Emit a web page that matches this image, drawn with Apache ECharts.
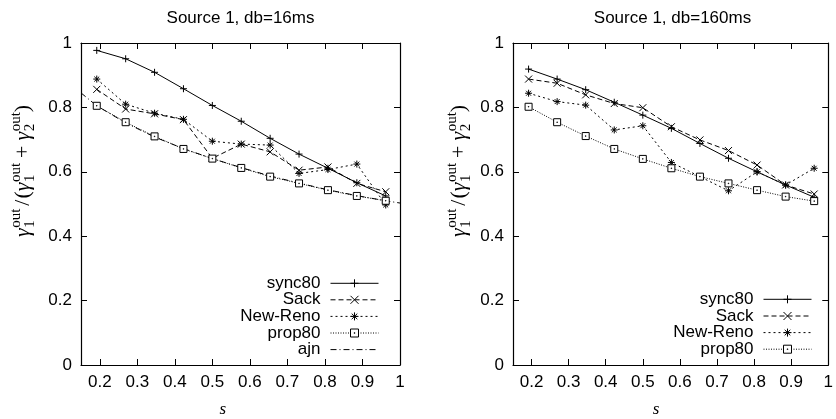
<!DOCTYPE html>
<html>
<head>
<meta charset="utf-8">
<script src="https://cdn.jsdelivr.net/npm/echarts@6/dist/echarts.min.js"></script>
<style>
html, body { margin: 0; padding: 0; background: #fff; }
#main { width: 836px; height: 419px; }
</style>
</head>
<body>
<div id="main"></div>
<script>
// s values of the measured points, and of the ajn curve samples
var sPoints = [0.192, 0.269, 0.346, 0.423, 0.5, 0.577, 0.654, 0.731, 0.808, 0.885, 0.962];
var ajnS = [0.15, 0.192, 0.269, 0.346, 0.423, 0.5, 0.577, 0.654, 0.731, 0.808, 0.885, 0.962, 1];
var xTicks = [0.2, 0.3, 0.4, 0.5, 0.6, 0.7, 0.8, 0.9, 1];

// db=16ms
var sync80A = [0.977, 0.951, 0.909, 0.858, 0.806, 0.757, 0.704, 0.655, 0.611, 0.566, 0.525];
var sackA = [0.856, 0.795, 0.78, 0.762, 0.642, 0.686, 0.662, 0.605, 0.615, 0.564, 0.538];
var renoA = [0.888, 0.81, 0.782, 0.763, 0.695, 0.686, 0.683, 0.595, 0.607, 0.624, 0.497];
var prop80A = [0.805, 0.754, 0.71, 0.671, 0.641, 0.612, 0.585, 0.564, 0.543, 0.525, 0.51];
var ajnA = [0.845, 0.805, 0.752, 0.708, 0.672, 0.641, 0.613, 0.587, 0.565, 0.544, 0.526, 0.51, 0.503];

// db=160ms
var sync80B = [0.919, 0.888, 0.855, 0.816, 0.776, 0.735, 0.688, 0.642, 0.6, 0.559, 0.521];
var sackB = [0.888, 0.875, 0.839, 0.812, 0.799, 0.74, 0.699, 0.666, 0.621, 0.559, 0.531];
var renoB = [0.844, 0.818, 0.807, 0.73, 0.743, 0.629, 0.585, 0.541, 0.6, 0.559, 0.611];
var prop80B = [0.802, 0.754, 0.711, 0.671, 0.64, 0.611, 0.585, 0.564, 0.543, 0.523, 0.509];

var SANS = '"Liberation Sans", Arial, sans-serif';
var SERIF = '"Liberation Serif", "Times New Roman", serif';

var PLUS = 'path://M5,0V10M0,5H10';
var CROSS = 'path://M0,0L10,10M10,0L0,10';
var STAR = 'path://M5,0V10M0,5H10M1.5,1.5L8.5,8.5M8.5,1.5L1.5,8.5';
var BOX = 'path://M0,0H10V10H0Z M4.6,4.6H5.4V5.4H4.6Z';

function pairs(xs, ys) {
  return ys.map(function (y, i) { return [xs[i], y]; });
}

function line(name, xs, ys, axis, dash, symbol, fill) {
  return {
    type: 'line', name: name, data: pairs(xs, ys),
    xAxisIndex: axis, yAxisIndex: axis,
    symbol: symbol || 'none', symbolSize: 7, showSymbol: !!symbol,
    clip: true, animation: false, silent: true,
    lineStyle: { color: '#000', width: 1, type: dash },
    itemStyle: { color: fill || '#000', borderColor: '#000', borderWidth: 1 }
  };
}

var tickStyle = { inside: true, length: 6, lineStyle: { color: '#000', width: 1 } };
var lineStyle = { show: true, onZero: false, lineStyle: { color: '#000', width: 1.2 } };
var labelStyle = { color: '#000', fontSize: 17, fontFamily: SANS, margin: 9 };

function xAx(grid, pos, labels) {
  return {
    type: 'value', gridIndex: grid, position: pos, min: 0.15, max: 1,
    axisLine: lineStyle, splitLine: { show: false },
    axisTick: Object.assign({ customValues: xTicks }, tickStyle),
    axisLabel: Object.assign({ show: labels, customValues: xTicks,
      formatter: function (v) { return String(v); } }, labelStyle)
  };
}
function yAx(grid, pos, labels) {
  return {
    type: 'value', gridIndex: grid, position: pos, min: 0, max: 1, interval: 0.2,
    axisLine: lineStyle, splitLine: { show: false },
    axisTick: tickStyle,
    axisLabel: Object.assign({ show: labels }, labelStyle)
  };
}

// y axis label: gamma_1^out / (gamma_1^out + gamma_2^out), built from pieces
var ctx = document.createElement('canvas').getContext('2d');
function textW(t, size, italic) {
  ctx.font = (italic ? 'italic ' : '') + size + 'px ' + SERIF;
  return ctx.measureText(t).width;
}
function yLabel(x0, y0) {
  var big = 22, small = 15, kids = [], pos = 0;
  function put(t, size, dy, italic) {
    kids.push({ type: 'text', x: pos, y: dy - 0.34 * size,
      style: { text: t, fontSize: size, fontFamily: SERIF, fontStyle: italic ? 'italic' : 'normal',
        fill: '#000', align: 'left', verticalAlign: 'middle' } });
    return textW(t, size, italic);
  }
  function gam(sub) {
    pos += put('γ', big, 0, true) + 0.5;
    var a = put(sub, small, 4, false);
    var b = put('out', small, -10, false);
    pos += Math.max(a, b);
  }
  gam('1');
  pos += 3; pos += put('/', big, 0, false) + 1;
  pos += put('(', big, 0, false);
  gam('1');
  pos += 5; pos += put('+', big, 0, false) + 5;
  gam('2');
  pos += put(')', big, 0, false);
  return { type: 'group', x: x0, y: y0, rotation: Math.PI / 2, children: kids };
}

function legendRow(name, right, center, noMark) {
  return {
    data: [name], orient: 'horizontal', align: 'right', right: right, top: center - 8.5,
    padding: 0, itemWidth: 48, itemHeight: 10, selectedMode: false,
    lineStyle: { width: 1 },
    itemStyle: noMark ? { opacity: 0 } : { borderWidth: 1 },
    textStyle: { color: '#000', fontSize: 17, fontFamily: SANS, lineHeight: 17, padding: [0, 5, 0, 0] }
  };
}

var chart = echarts.init(document.getElementById('main'), null, { renderer: 'canvas' });
chart.setOption({
  backgroundColor: '#fff',
  animation: false,
  title: [
    { text: 'Source 1, db=16ms', left: 240.5, top: 10, textAlign: 'center', padding: 0,
      textStyle: { color: '#000', fontSize: 17, fontWeight: 'normal', fontFamily: SANS } },
    { text: 'Source 1, db=160ms', left: 672.5, top: 10, textAlign: 'center', padding: 0,
      textStyle: { color: '#000', fontSize: 17, fontWeight: 'normal', fontFamily: SANS } }
  ],
  grid: [
    { left: 81, top: 43, width: 319, height: 322 },
    { left: 513, top: 43, width: 319, height: 322 }
  ],
  xAxis: [xAx(0, 'bottom', true), xAx(0, 'top', false), xAx(1, 'bottom', true), xAx(1, 'top', false)],
  yAxis: [yAx(0, 'left', true), yAx(0, 'right', false), yAx(1, 'left', true), yAx(1, 'right', false)],
  legend: [
    legendRow('sync80', 457, 283.3), legendRow('Sack', 457, 299.8), legendRow('New-Reno', 457, 316.4),
    legendRow('prop80', 457, 333), legendRow('ajn', 457, 349.6, true),
    legendRow('sync80', 24, 299.3), legendRow('Sack', 24, 316), legendRow('New-Reno', 24, 332.6),
    legendRow('prop80', 24, 349.2)
  ],
  series: [
    line('sync80', sPoints, sync80A, 0, 'solid', PLUS),
    line('Sack', sPoints, sackA, 0, [5, 3], CROSS),
    line('New-Reno', sPoints, renoA, 0, [2, 3], STAR),
    line('prop80', sPoints, prop80A, 0, [1, 1.5], BOX, '#fff'),
    line('ajn', ajnS, ajnA, 0, [6, 3, 1, 3]),
    line('sync80', sPoints, sync80B, 2, 'solid', PLUS),
    line('Sack', sPoints, sackB, 2, [5, 3], CROSS),
    line('New-Reno', sPoints, renoB, 2, [2, 3], STAR),
    line('prop80', sPoints, prop80B, 2, [1, 1.5], BOX, '#fff')
  ],
  graphic: [
    yLabel(31, 237),
    yLabel(467, 237),
    { type: 'text', x: 222.7, y: 410, style: { text: 's', fontSize: 17, fontStyle: 'italic',
      fontFamily: SERIF, fill: '#000', align: 'center', verticalAlign: 'middle' } },
    { type: 'text', x: 656, y: 410, style: { text: 's', fontSize: 17, fontStyle: 'italic',
      fontFamily: SERIF, fill: '#000', align: 'center', verticalAlign: 'middle' } }
  ]
});
</script>
</body>
</html>
